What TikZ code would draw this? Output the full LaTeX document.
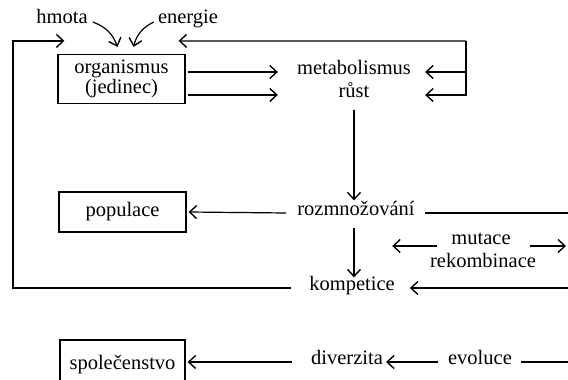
\documentclass[tikz,border=0pt]{standalone}
\usepackage{fontspec}
\setmainfont{Liberation Serif}
\usetikzlibrary{arrows.meta,calc}
\begin{document}
\begin{tikzpicture}[x=1pt,y=-1pt,
  txt/.style={inner sep=0pt, font=\fontsize{20.5}{20}\selectfont, text height=0.68em, text depth=0.2em},
  box/.style={draw, line width=1.2pt, inner sep=0pt, font=\fontsize{20.5}{19.5}\selectfont, align=center},
  ln/.style={line width=1.2pt},
  arr/.style={ln, -{Straight Barb[length=7pt,width=13pt,line width=1.4pt]}}]
\useasboundingbox[fill=white] (0,0) rectangle (568,380);
% nodes
\node[txt] (hmota) at (62,21) {hmota};
\node[txt] (energie) at (188,21) {energie};
\node[box, minimum width=127pt, minimum height=49pt] (org) at (121.5,79) {organismus\\(jedinec)};
\node[txt] (metab) at (354,72) {metabolismus};
\node[txt] (rust) at (354,95) {růst};
\node[txt] (rozm) at (356,213) {rozmnožování};
\node[txt] (mut) at (481,242) {mutace};
\node[txt] (rek) at (483,265) {rekombinace};
\node[txt] (komp) at (352,288) {kompetice};
\node[box, minimum width=127pt, minimum height=40pt] (pop) at (122.5,212) {populace};
\node[box, minimum width=125pt, minimum height=70pt, text height=14pt, text depth=26pt] (spol) at (122.5,375) {společenstvo};
\node[txt] (div) at (347,362) {diverzita};
\node[txt] (evo) at (480,362) {evoluce};
% free ends
\coordinate (tr) at (466,41);
\coordinate (bl) at (13,288);
\coordinate (rr) at (568,213);
\coordinate (kr) at (568,288);
\coordinate (mr) at (566,246);
\coordinate (er) at (568,362);
% inputs
\draw[arr] ([xshift=5pt,yshift=-1pt]hmota.east) to[bend left=25] ($(org.north)+(-4,-7)$);
\draw[arr] ([xshift=-4pt,yshift=-1pt]energie.west) to[bend right=25] ($(org.north)+(12,-7)$);
% feedback top right
\draw[arr] (tr) -- ($(org.north east)+(-7,-13)$);
\draw[arr] (tr) |- ([xshift=14pt]metab.east);
\draw[arr] (tr) |- ([xshift=14pt]metab.east |- rust.east);
% organismus -> metabolismus / rust
\draw[arr] ([xshift=2pt]org.east |- metab.west) -- ([xshift=-19pt]metab.west);
\draw[arr] ([xshift=2pt]org.east |- rust.west) -- ([xshift=-19pt]metab.west |- rust.west);
% vertical
\draw[arr] ([yshift=-10pt]rust.south) -- ([yshift=8pt]rozm.north -| rust.south);
\draw[arr] ([yshift=-10pt]rozm.south -| rust.south) -- ([yshift=6pt]komp.north -| rust.south);
% rozmnozovani
\draw[arr] ([xshift=-11pt]rozm.west) -- ([xshift=2pt]pop.east);
\draw[ln] ([xshift=10pt]rozm.east) -- (rr);
% mutace
\draw[arr] ([xshift=-14pt,yshift=-4pt]mut.west) -- ([xshift=-59pt,yshift=-4pt]mut.west);
\draw[arr] ([xshift=19pt,yshift=-4pt]mut.east) -- (mr);
% kompetice
\draw[arr] (kr) -- ([xshift=15pt]komp.east);
\draw[arr] ([xshift=-18pt]komp.west) -- (bl) |- ($(org.north west)+(7,-13)$);
% bottom row
\draw[arr] ([xshift=-19pt]div.west) -- ([xshift=2pt]spol.east |- div.west);
\draw[arr] ([xshift=-10pt]evo.west) -- ([xshift=3pt]div.east);
\draw[ln] ([xshift=9pt]evo.east) -- (er);
\end{tikzpicture}
\end{document}
